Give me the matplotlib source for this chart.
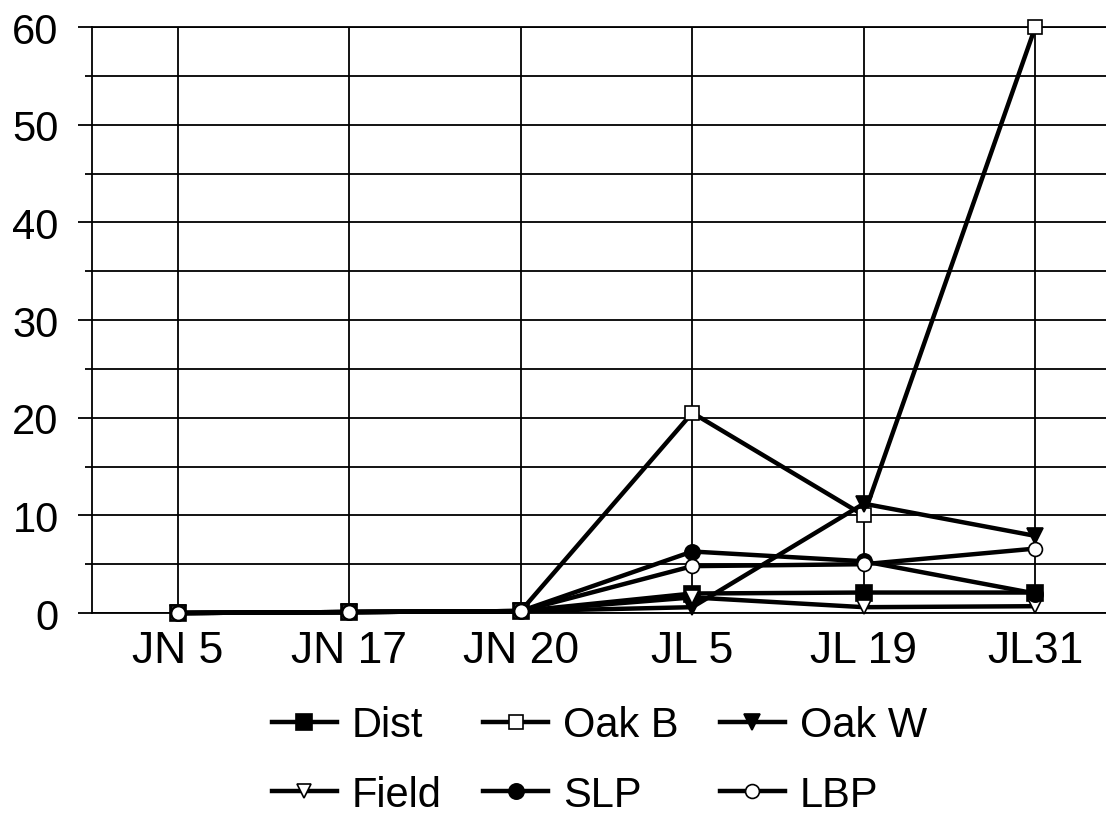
import matplotlib
matplotlib.use("Agg")
import matplotlib.pyplot as plt
from matplotlib.ticker import MultipleLocator

plt.rcParams['font.family'] = ['Liberation Sans', 'DejaVu Sans']

dates = ['JN 5', 'JN 17', 'JN 20', 'JL 5', 'JL 19', 'JL31']

dist = [0, 0.1, 0.2, 2.0, 2.1, 2.1]
oak_b = [0, 0.1, 0.2, 20.5, 10.0, 60.0]
oak_w = [0, 0.1, 0.2, 0.6, 11.2, 7.9]
field = [0, 0.1, 0.2, 1.6, 0.6, 0.7]
slp = [0, 0.1, 0.2, 6.3, 5.3, 2.0]
lbp = [0, 0.1, 0.2, 4.8, 5.0, 6.6]

series = [
    ('Dist', dist, dict(marker='s', mfc='black', ms=11)),
    ('Oak B', oak_b, dict(marker='s', mfc='white', ms=10)),
    ('Oak W', oak_w, dict(marker='v', mfc='black', ms=11)),
    ('Field', field, dict(marker='v', mfc='white', ms=10)),
    ('SLP', slp, dict(marker='o', mfc='black', ms=11)),
    ('LBP', lbp, dict(marker='o', mfc='white', ms=10)),
]

fig = plt.figure(figsize=(11.06, 8.29), dpi=100)
fig.patch.set_facecolor('white')
ax = fig.add_axes([0.0832, 0.2593, 0.9304, 0.7069])

x = list(range(len(dates)))
handles = {}
for name, vals, style in series:
    line, = ax.plot(x, vals, color='black', lw=3.2, mec='black', mew=1.2,
                    label=name, zorder=3, clip_on=False, **style)
    handles[name] = line

ax.set_xlim(-0.5, 5.5)
ax.set_ylim(0, 60)
ax.yaxis.set_major_locator(MultipleLocator(10))
ax.yaxis.set_minor_locator(MultipleLocator(5))
ax.set_xticks(x)
ax.set_xticklabels(dates)

ax.grid(True, which='both', axis='y', color='black', lw=1.3)
ax.grid(True, which='major', axis='x', color='black', lw=1.3)

for side in ['top', 'bottom', 'left', 'right']:
    ax.spines[side].set_color('black')
    ax.spines[side].set_linewidth(1.3)

ax.tick_params(axis='y', which='major', length=10, width=1.3, labelsize=30, pad=14)
ax.tick_params(axis='y', which='minor', length=5, width=1.3)
ax.tick_params(axis='x', length=0, labelsize=32, pad=12)

# legend: three columns, two rows, no frame
order = ['Dist', 'Field', 'Oak B', 'SLP', 'Oak W', 'LBP']
fig.legend([handles[n] for n in order], order, ncol=3, frameon=False,
           loc='center', bbox_to_anchor=(0.542, 0.082), fontsize=30,
           handlelength=1.55, handletextpad=0.36, columnspacing=1.0,
           labelspacing=0.7, markerscale=1.0)

fig.savefig('out.png', dpi=100, facecolor='white')
